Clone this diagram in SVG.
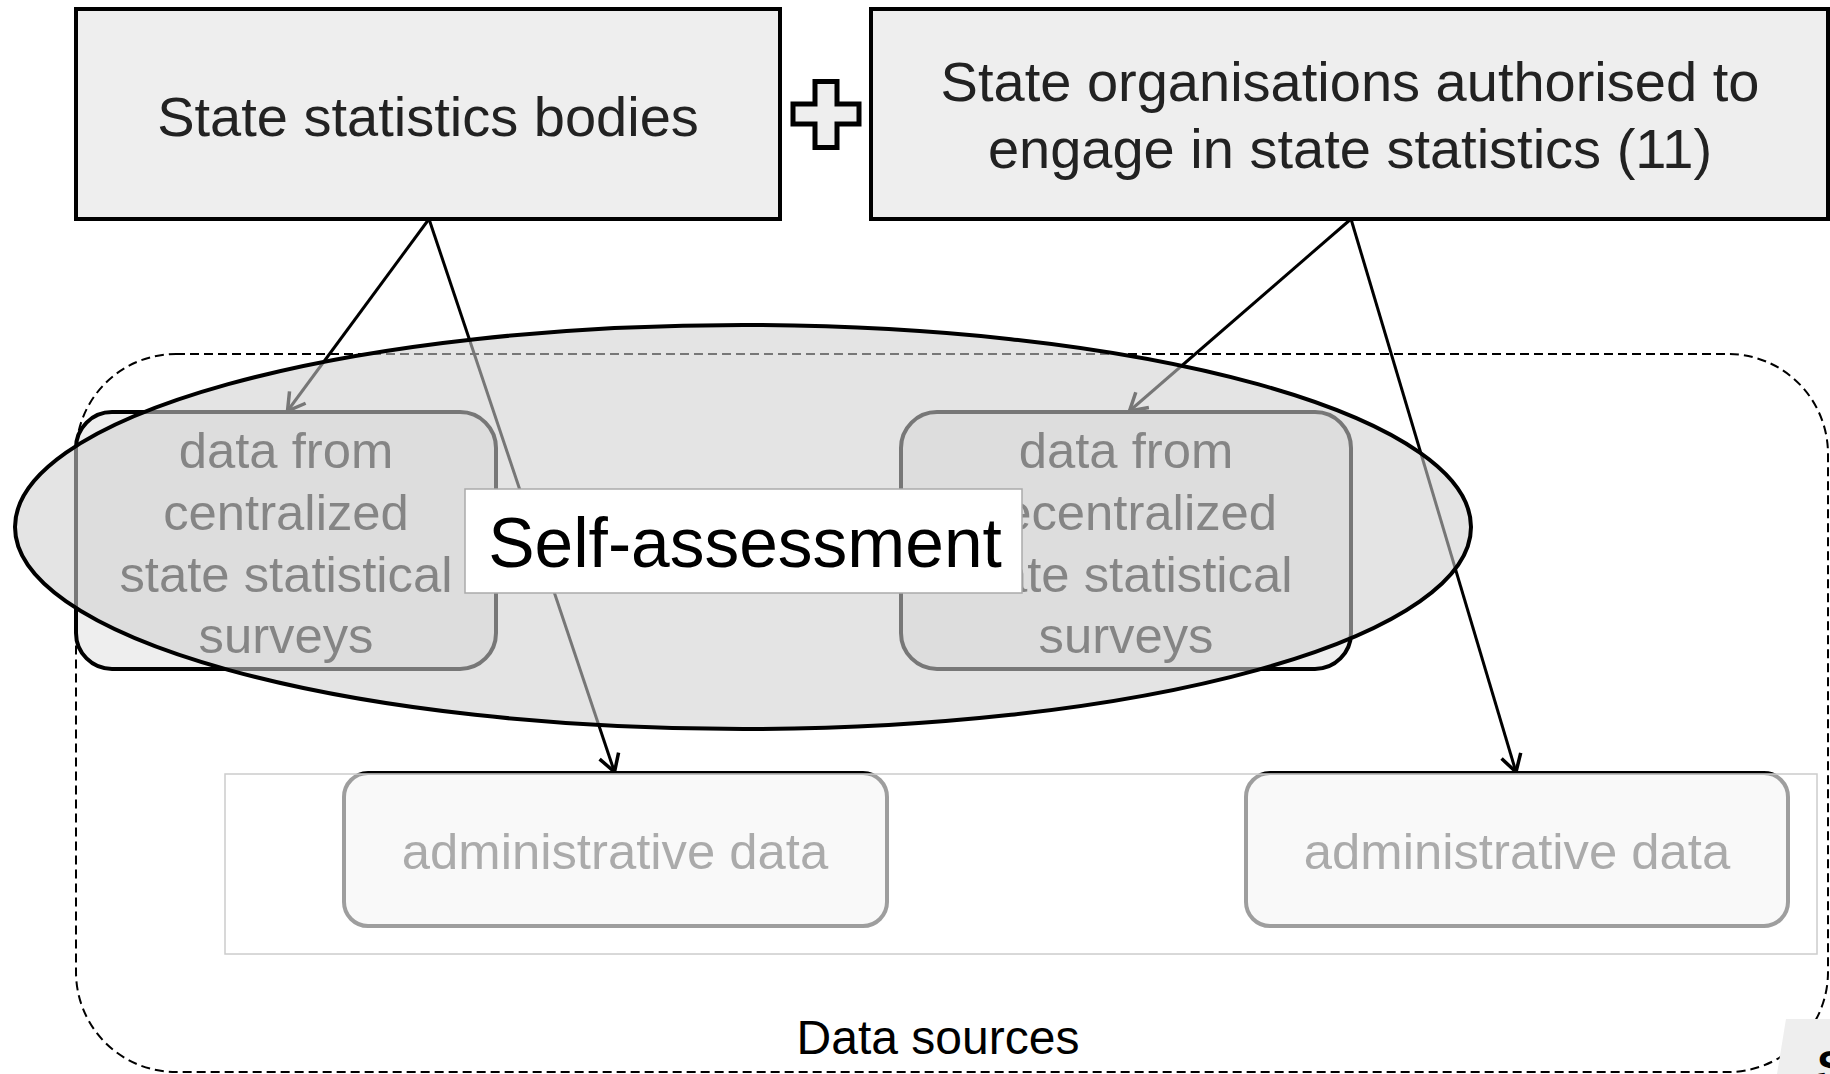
<svg xmlns="http://www.w3.org/2000/svg" width="1830" height="1074" viewBox="0 0 1830 1074">
<style>
.t{font-family:"Liberation Sans",Arial,sans-serif;text-anchor:middle}
.top rect{fill:#eeeeee;stroke:#000;stroke-width:4}
.top text{font-size:56px;fill:#222}
.node rect{fill:#eeeeee;stroke:#000;stroke-width:4}
.node text{font-size:50.8px;fill:#222}
.conn line{stroke:#000;stroke-width:3;fill:none}
</style>
<defs>
<marker id="arr" viewBox="0 0 24 24" refX="21" refY="12" markerWidth="24" markerHeight="24" orient="auto" markerUnits="userSpaceOnUse">
<path d="M4,2 L21,12 L4,22" fill="none" stroke="#000" stroke-width="3.5"/>
</marker>
</defs>
<rect width="1830" height="1074" fill="#fff"/>
<g id="data-sources">
<rect x="76" y="354" width="1752" height="718" rx="100" ry="100" fill="none" stroke="#000" stroke-width="2" stroke-dasharray="9 5"/>
<text class="t" x="938" y="1054" font-size="48" fill="#000">Data sources</text>
</g>
<g id="state-statistics-bodies" class="top">
<rect x="76" y="9" width="704" height="210"/>
<text class="t" x="428" y="136">State statistics bodies</text>
</g>
<g id="plus">
<path d="M815,81.5 H837 V104 H859 V124 H837 V147.5 H815 V124 H793 V104 H815 Z" fill="#eeeeee" stroke="#000" stroke-width="5"/>
</g>
<g id="state-organisations" class="top">
<rect x="871" y="9" width="957" height="210"/>
<text class="t" x="1350" y="101">State organisations authorised to</text>
<text class="t" x="1350" y="168">engage in state statistics (11)</text>
</g>
<g id="centralized" class="node">
<rect x="76" y="412" width="420" height="257" rx="36" ry="36"/>
<text class="t" x="286" y="468">data from</text>
<text class="t" x="286" y="530">centralized</text>
<text class="t" x="286" y="592">state statistical</text>
<text class="t" x="286" y="653">surveys</text>
</g>
<g id="decentralized" class="node">
<rect x="901" y="412" width="450" height="257" rx="36" ry="36"/>
<text class="t" x="1126" y="468">data from</text>
<text class="t" x="1126" y="530">decentralized</text>
<text class="t" x="1126" y="592">state statistical</text>
<text class="t" x="1126" y="653">surveys</text>
</g>
<g id="admin-left" class="node">
<rect x="344" y="773" width="543" height="153" rx="24" ry="24"/>
<text class="t" x="615" y="869">administrative data</text>
</g>
<g id="admin-right" class="node">
<rect x="1246" y="773" width="542" height="153" rx="24" ry="24"/>
<text class="t" x="1517" y="869">administrative data</text>
</g>
<g id="connectors" class="conn">
<line x1="429" y1="219" x2="287.5" y2="411" marker-end="url(#arr)"/>
<line x1="429" y1="219" x2="614.5" y2="772" marker-end="url(#arr)"/>
<line x1="1351" y1="219" x2="1129.5" y2="411" marker-end="url(#arr)"/>
<line x1="1351" y1="219" x2="1516" y2="772" marker-end="url(#arr)"/>
</g>
<g id="admin-overlay">
<rect x="225" y="774" width="1592" height="180" fill="#fff" fill-opacity="0.62" stroke="#cccccc" stroke-width="1.5"/>
</g>
<g id="self-assessment">
<ellipse cx="743" cy="527" rx="728" ry="202" fill="rgb(208,208,208)" fill-opacity="0.573" stroke="none"/>
<ellipse cx="743" cy="527" rx="728" ry="202" fill="none" stroke="#000" stroke-width="4"/>
<rect x="465" y="489" width="557" height="104" fill="#fff" stroke="#aaaaaa" stroke-width="1.5"/>
<text class="t" x="745" y="567" font-size="69.5" fill="#000">Self-assessment</text>
</g>
<g id="corner-tag">
<polygon points="1786,1019 1830,1019 1830,1074 1777,1074" fill="#eeeeee"/>
<text x="1817" y="1082" font-family="Liberation Sans, Arial, sans-serif" font-size="44" font-weight="bold" fill="#000">S</text>
</g>
</svg>
